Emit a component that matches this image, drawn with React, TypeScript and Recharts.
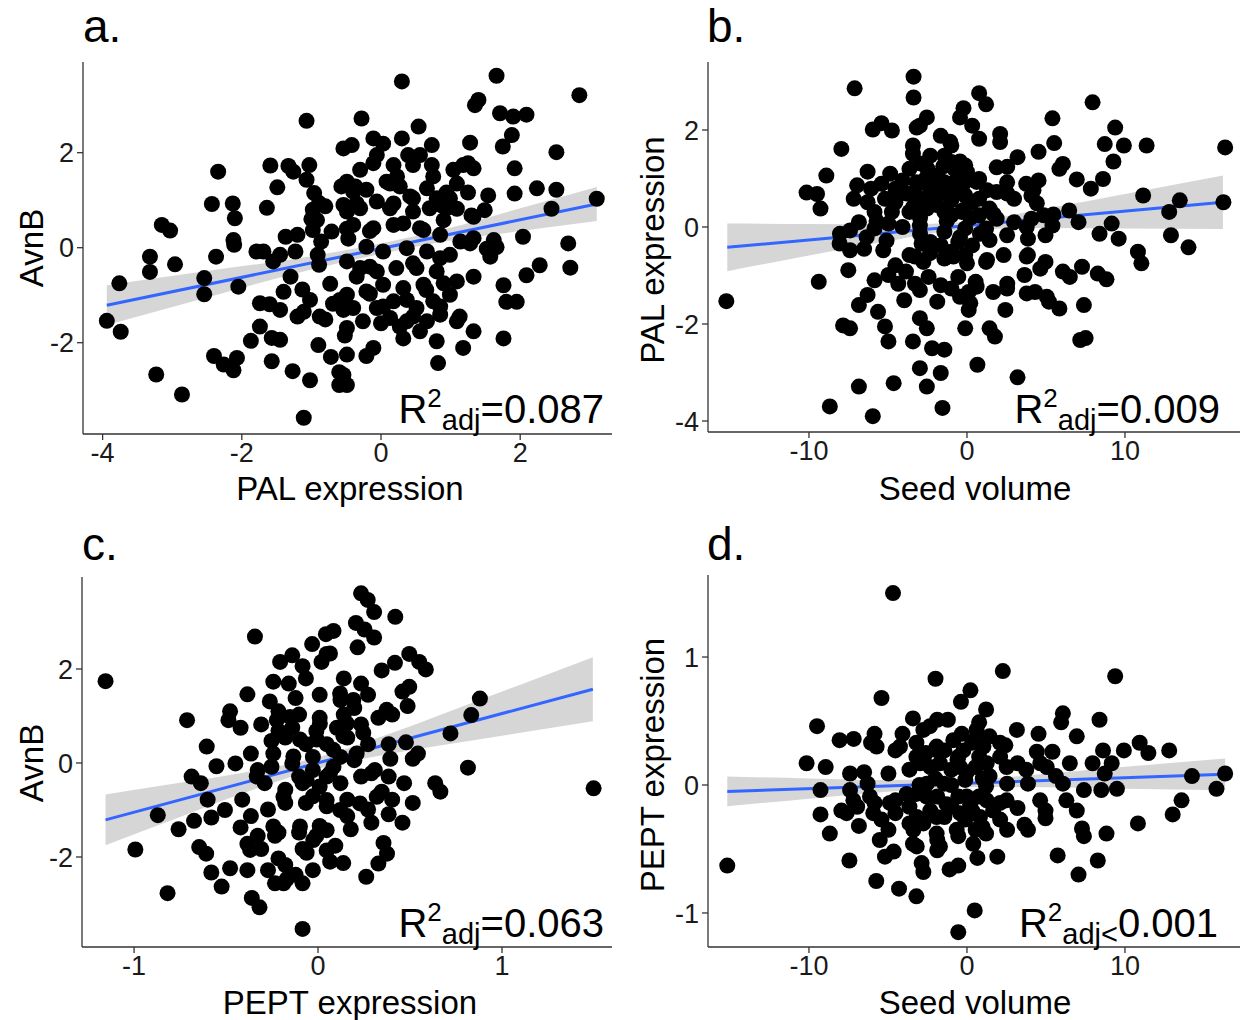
import React from 'react';
import { ComposedChart, Scatter, Line, Area, XAxis, YAxis } from 'recharts';

const FONT = '"Liberation Sans", Arial, Helvetica, sans-serif';

// ---------- Panel a: AvnB vs PAL expression ----------
const panelAPoints: [number, number][] = [
  [-1.07,2.67],[-0.54,2.09],[-2.34,1.60],[-1.59,1.73],[-1.33,1.72],[-1.26,1.60],[-1.03,1.74],[-1.07,1.43],[-1.49,1.27],
  [-2.43,0.92],[-2.13,0.93],[-2.10,0.62],[-1.64,0.84],[-3.15,0.48],[-3.03,0.36],[-2.12,0.16],[-2.11,0.06],[-1.79,-0.08],
  [-1.69,-0.08],[-3.32,-0.19],[-3.32,-0.51],[-2.96,-0.35],[-2.37,-0.19],[-3.76,-0.75],[-3.94,-1.54],[-3.74,-1.77],
  [-2.54,-0.64],[-2.54,-0.98],[-2.05,-0.82],[-3.23,-2.67],[-2.86,-3.09],[-2.40,-2.28],[-2.26,-2.46],[-2.12,-2.58],
  [-2.07,-2.32],[-1.87,-1.96],[-1.74,-1.66],[-1.74,-1.17],[-1.60,-1.19],[-1.57,-1.90],[-1.45,-1.94],[-1.57,-2.39],
  [-1.27,-2.60],[-1.02,-2.79],[-1.11,-3.58],[-1.45,-1.31],[-1.40,-0.93],[-1.30,-0.61],[-1.13,-0.88],[-1.02,-1.10],
  [-1.20,-1.45],[-0.90,-2.05],[-0.72,-2.30],[-0.60,-2.62],[-0.60,-2.89],[-0.80,-1.51],[-0.73,-0.76],[-0.69,-1.18],
  [-0.54,-1.31],[-0.52,-1.85],[-1.37,0.23],[-1.20,0.27],[-1.23,-0.08],[-1.45,-0.15],[-1.55,-0.29],[-0.98,0.37],
  [-0.86,0.13],[-0.71,0.34],[-0.91,-0.15],[-0.89,-0.36],[-0.98,0.80],[-0.89,0.94],[-0.96,1.15],[-0.80,0.87],
  [-0.57,1.29],[-0.54,0.90],[-1.00,0.60],[-0.49,0.40],
  [0.30,3.50],[1.66,3.62],[2.85,3.21],[1.40,3.11],[1.35,3.00],[1.71,2.83],[1.90,2.76],[2.09,2.80],[-0.28,2.72],
  [0.54,2.55],[1.88,2.37],[1.75,2.13],[2.52,2.01],[-0.11,2.30],[0.03,2.19],[0.30,2.30],[0.73,2.16],[-0.42,2.16],
  [1.28,2.21],[1.92,1.67],[2.24,1.25],[2.52,1.22],[1.92,1.14],[1.54,1.10],[1.49,0.79],[3.10,1.03],[2.45,0.82],
  [2.69,0.09],[2.72,-0.42],[2.28,-0.37],[2.09,-0.58],[2.04,0.23],[1.76,-0.79],[1.80,-1.14],[1.95,-1.14],[1.76,-1.91],
  [1.52,-0.02],[1.66,0.01],[1.33,0.20],[1.30,0.68],[1.09,1.35],[0.99,1.04],[1.33,1.67],[1.18,1.74],[0.73,1.74],
  [0.56,1.95],[0.39,1.95],[0.18,1.74],[-0.11,1.78],[-0.30,1.64],[-0.49,1.39],[-0.40,1.18],[-0.21,1.22],[0.08,1.39],
  [0.27,1.29],[0.46,1.04],[0.66,1.25],[0.80,1.04],[0.94,0.83],[0.70,0.83],[0.46,0.76],[0.13,0.83],[-0.06,0.97],
  [-0.30,0.83],[-0.49,0.76],[-0.40,0.48],[-0.11,0.41],[0.18,0.48],[0.56,0.41],[0.85,0.27],[1.14,0.13],[-0.21,0.02],
  [0.03,-0.08],[0.37,-0.01],[0.66,-0.08],[0.85,-0.22],[0.99,-0.15],[-0.49,-0.29],[-0.30,-0.43],[-0.06,-0.50],
  [0.22,-0.43],[0.51,-0.43],[0.80,-0.50],[1.33,-0.61],[1.09,-0.71],[0.61,-0.78],[0.32,-0.85],[0.03,-0.78],
  [-0.21,-0.92],[-0.49,-0.99],[-0.40,-1.27],[-0.06,-1.27],[0.18,-1.13],[0.51,-1.27],[0.75,-1.13],[0.99,-0.99],
  [0.85,-1.41],[1.09,-1.55],[0.66,-1.55],[0.37,-1.55],[0.13,-1.48],[-0.26,-1.55],[-0.49,-1.69],[0.32,-1.91],
  [0.56,-1.76],[0.80,-1.97],[1.33,-1.76],[1.18,-2.11],[0.82,-2.43],[-0.11,-2.11],[-0.21,-2.28],[-0.49,-2.25],
  [-0.54,-2.68],[-0.49,-2.89],[-0.06,1.95],
  [-0.37,1.29],[0.23,1.50],[0.13,1.35],[0.46,1.74],[0.75,1.50],[1.04,1.64],[1.25,1.78],[1.25,1.16],[0.94,1.16],
  [0.87,0.89],[1.09,0.82],[0.42,1.08],[0.18,0.93],[-0.35,0.93],[-0.92,0.58],[-0.47,0.19],[-0.16,0.35],[0.32,0.51],
  [0.61,0.37],[0.90,0.58],[1.33,0.65],[1.62,0.16],[1.57,-0.19],[1.28,0.09],[0.46,-0.33],[-0.16,-0.40],[-0.35,-0.61],
  [-1.11,-1.35],[-0.59,-1.10],[-0.16,-0.97],[0.03,-1.24],[0.37,-1.10],[0.65,-0.89],[0.90,-0.75],[1.13,-1.45],
  [0.85,-1.24],[0.46,-1.45],[0.27,-1.66],[0.00,-1.59],[-0.88,-1.45],
];
const panelABandX = [-3.94, -2.5, -1, 0, 1, 2, 3.1];
const panelABandLo = [-1.63, -1.05, -0.46, -0.13, 0.15, 0.35, 0.56];
const panelABandHi = [-0.79, -0.49, -0.18, 0.09, 0.42, 0.83, 1.28];
const panelAFitX = [-3.94, 3.1];
const panelAFitY = [-1.21, 0.92];

// ---------- Panel b: PAL expression vs Seed volume ----------
const panelBPoints: [number, number][] = [
  [-3.38,3.10],[-3.38,2.67],[-7.11,2.86],[0.77,2.76],[1.21,2.53],[-0.22,2.45],[7.95,2.57],[-0.44,2.26],[-2.54,2.26],
  [-2.98,2.09],[5.41,2.24],[9.38,2.05],[-5.96,2.01],[-5.41,2.14],[-4.75,1.99],[2.10,1.92],[0.33,2.09],[-1.66,1.88],
  [-7.95,1.61],[8.72,1.71],[9.93,1.68],[11.37,1.68],[16.34,1.64],[5.52,1.73],[4.53,1.55],[2.10,1.75],[0.77,1.82],
  [-3.42,1.68],[-3.42,1.51],[-2.32,1.47],[-1.43,1.47],[9.27,1.35],[6.07,1.30],[5.85,1.20],[3.20,1.44],[1.88,1.23],
  [-0.11,1.27],[-0.99,1.34],[-3.64,1.20],[-4.86,1.10],[-6.29,1.14],[-8.90,1.06],[8.61,0.99],[6.95,0.98],[7.84,0.79],
  [4.53,0.96],[3.75,0.89],[2.54,0.92],[0.77,0.99],[-0.55,1.06],[-1.88,1.06],[-2.76,0.92],[-4.08,0.96],[-5.41,0.89],
  [-6.95,0.86],[-6.07,0.79],[-10.15,0.71],[-9.49,0.68],[-9.27,0.38],[-7.17,0.58],[-6.29,0.51],[-5.19,0.58],
  [-4.30,0.68],[-3.20,0.65],[-2.32,0.65],[-1.43,0.72],[-0.11,0.65],[0.77,0.58],[1.88,0.72],[2.98,0.58],[4.08,0.65],
  [11.15,0.65],[13.47,0.55],[12.80,0.31],[16.23,0.51],[6.47,0.34],[7.06,0.10],[9.16,0.07],[4.86,0.24],[4.08,0.17],
  [2.98,0.10],[1.88,0.17],[0.77,0.24],[-0.33,0.31],[-1.43,0.31],[-2.54,0.38],[-3.64,0.31],[-4.75,0.31],[-5.85,0.31],
  [-6.84,0.10],[-7.40,-0.07],[-5.85,-0.03],[-4.08,0.00],[-2.98,0.03],[-1.43,-0.10],[-0.11,-0.03],[1.21,-0.03],
  [2.54,-0.17],[5.41,0.03],[8.39,-0.14],[9.60,-0.24],[12.91,-0.17],[14.02,-0.42],[10.82,-0.51],[11.04,-0.75],
  [3.86,-0.24],[4.97,-0.17],[-8.06,-0.34],[-7.40,-0.48],[-6.51,-0.45],[-5.30,-0.48],[-2.87,-0.34],[-1.66,-0.38],
  [-0.55,-0.31],[0.33,-0.38],[1.43,-0.27],[3.86,-0.58],[4.97,-0.72],[4.64,-0.86],[6.07,-0.92],[6.51,-1.03],
  [7.28,-0.82],[8.28,-0.96],[8.83,-1.08],[-9.38,-1.13],[-7.51,-0.89],[-4.53,-0.79],[-3.64,-0.58],[-2.76,-0.72],
  [-1.43,-0.65],[-0.11,-0.58],[1.21,-0.72],[2.32,-0.58],[-3.86,-0.92],[-4.97,-0.99],[-5.85,-1.10],[-2.43,-1.03],
  [-0.55,-1.03],[0.55,-1.13],[-1.66,-1.20],[-2.98,-1.30],[-3.97,-1.51],[-6.29,-1.40],[-6.84,-1.61],[-5.63,-1.75],
  [-0.99,-1.27],[0.11,-1.34],[1.66,-1.34],[2.54,-1.27],[3.64,-0.99],[4.31,-1.34],[5.19,-1.54],[5.85,-1.68],
  [2.43,-1.71],[7.40,-1.61],[-1.88,-1.54],[0.11,-1.71],[-7.84,-2.03],[-7.40,-2.09],[-5.19,-2.05],[-4.97,-2.36],
  [-2.98,-1.88],[-2.54,-2.09],[-3.42,-2.36],[-0.11,-2.09],[1.43,-2.09],[1.77,-2.26],[-2.21,-2.50],[-1.43,-2.53],
  [7.17,-2.33],[7.51,-2.29],[0.66,-2.84],[-2.98,-2.91],[-1.66,-3.01],[3.20,-3.10],[-4.64,-3.22],[-2.54,-3.29],
  [-6.84,-3.29],[-8.68,-3.70],[-5.96,-3.90],[-1.55,-3.73],[-15.23,-1.53],[-0.99,0.55],[-4.53,0.79],[-0.99,1.68],
  [-3.20,0.92],[-1.43,0.92],[-2.32,0.79],[-0.55,0.79],[-2.76,0.51],[-1.88,0.45],[-0.99,0.24],[0.33,0.51],
  [1.43,0.38],[-4.53,0.51],[-4.97,0.07],[-2.32,-0.31],[-0.99,-0.51],
  [-3.18,2.05],[-1.07,1.76],[-2.97,1.31],[-0.44,1.35],[0.00,1.14],[2.55,1.24],[-3.82,0.69],[-2.13,0.89],[-1.07,0.89],
  [0.61,0.93],[1.27,0.76],[4.21,0.76],[-3.39,0.42],[-0.23,0.35],[2.55,0.69],[4.42,0.49],[-5.72,0.12],[-2.97,0.19],
  [-1.28,0.12],[0.21,0.19],[1.69,0.26],[5.47,0.26],[-8.04,-0.14],[-6.35,-0.21],[-5.09,-0.28],[-2.97,-0.14],
  [-0.44,-0.21],[0.82,-0.14],[3.78,0.00],[-3.29,-0.61],[-2.34,-0.54],[-0.86,-0.61],[0.00,-0.75],[1.27,-0.68],
  [3.78,-0.61],[-4.35,-1.17],[-3.29,-1.17],[0.61,-1.23],[2.55,-1.17],[3.78,-1.37],[5.05,-1.44],[-0.44,-1.44],
  [0.21,-1.57],[-2.50,1.20],[-1.80,1.00],[-0.80,1.20],[-2.00,0.60],[-1.00,0.60],[-0.20,0.90],[-2.60,1.00],[-1.50,1.25],
];
const panelBBandX = [-15.17, -10, -5, 0, 5, 10, 16.2];
const panelBBandLo = [-0.91, -0.59, -0.29, -0.05, -0.02, -0.03, -0.04];
const panelBBandHi = [0.07, 0.06, 0.05, 0.11, 0.38, 0.68, 1.06];
const panelBFitX = [-15.17, 16.2];
const panelBFitY = [-0.42, 0.51];

// ---------- Panel c: AvnB vs PEPT expression ----------
const panelCPoints: [number, number][] = [
  [-1.155,1.74],[0.234,3.61],[0.27,3.47],[0.305,3.21],[0.42,3.11],[0.206,2.98],[0.253,2.84],[0.305,2.67],[0.215,2.46],
  [-0.343,2.69],[0.043,2.74],[0.084,2.81],[-0.032,2.53],[0.047,2.32],[0.019,2.15],[-0.14,2.29],[-0.206,2.15],
  [-0.084,2.06],[0.496,2.32],[0.55,2.15],[0.586,1.99],[0.418,2.13],[0.346,1.97],[-0.243,1.73],[-0.159,1.69],
  [-0.066,1.80],[0.14,1.80],[0.234,1.69],[0.496,1.62],[0.459,1.52],[-0.384,1.46],[-0.262,1.31],[-0.122,1.38],
  [0.009,1.45],[0.122,1.34],[0.272,1.45],[0.487,1.21],[0.88,1.37],[-0.712,0.91],[-0.487,0.91],[-0.421,0.75],
  [-0.309,0.82],[-0.215,0.68],[-0.103,1.03],[0.009,0.96],[0.14,1.03],[0.234,0.82],[0.328,0.96],[0.403,1.03],
  [0.833,1.02],[0.72,0.63],[-0.605,0.35],[-0.552,-0.07],[-0.449,-0.01],[-0.365,0.20],[-0.253,0.47],[-0.178,0.54],
  [-0.066,0.40],[0.047,0.40],[0.159,0.54],[0.272,0.40],[0.384,0.40],[0.478,0.44],[0.543,0.20],[0.515,0.09],
  [0.393,0.09],[-0.328,-0.15],[-0.253,-0.08],[-0.14,-0.01],[-0.028,-0.15],[0.084,-0.08],[0.197,0.06],[0.309,-0.15],
  [0.815,-0.10],[0.637,-0.43],[0.665,-0.61],[1.498,-0.54],[-0.687,-0.29],[-0.637,-0.43],[-0.60,-0.78],[-0.412,-0.78],
  [-0.29,-0.43],[-0.178,-0.57],[-0.084,-0.43],[0.009,-0.50],[0.122,-0.43],[0.234,-0.29],[0.29,-0.22],[0.384,-0.29],
  [0.468,-0.43],[0.346,-0.61],[0.403,-0.78],[0.515,-0.85],[-0.871,-1.11],[-0.758,-1.41],[-0.674,-1.23],[-0.58,-1.16],
  [-0.506,-1.00],[-0.365,-1.13],[-0.272,-0.99],[-0.178,-0.85],[-0.066,-0.85],[0.047,-0.92],[0.159,-1.13],
  [0.272,-0.99],[0.384,-1.09],[0.459,-1.27],[0.29,-1.27],[0.178,-1.41],[0.009,-1.34],[-0.103,-1.48],[-0.215,-1.48],
  [-0.328,-1.55],[-0.421,-1.37],[-0.993,-1.84],[-0.646,-1.79],[-0.608,-1.93],[-0.384,-1.72],[-0.309,-1.83],
  [-0.234,-1.55],[-0.084,-1.83],[-0.009,-1.55],[0.047,-1.86],[0.094,-1.76],[-0.215,-2.03],[-0.178,-2.17],
  [0.066,-2.10],[0.356,-1.70],[0.375,-1.93],[0.328,-2.14],[-0.58,-2.33],[-0.478,-2.24],[-0.384,-2.28],
  [-0.272,-2.28],[-0.122,-2.38],[-0.028,-2.28],[0.262,-2.42],[-0.234,-2.56],[-0.187,-2.56],[-0.084,-2.56],
  [-0.524,-2.63],[-0.818,-2.77],[-0.36,-2.87],[-0.318,-3.07],[-0.084,-3.53],[-0.478,1.10],[-0.14,0.75],
  [-0.009,0.68],[0.103,0.75],[0.197,1.17],[-0.215,1.10],[-0.028,0.13],[0.122,0.13],[-0.103,-0.29],[0.047,-0.29],
  [-0.028,-0.71],[0.159,-0.78],
  [0.065,2.33],[0.12,1.48],[0.192,1.34],[0.373,1.13],[-0.224,0.91],[-0.152,0.98],[0.01,0.84],[0.156,0.84],
  [-0.098,0.50],[-0.007,0.50],[0.138,0.57],[0.246,0.64],[-0.243,0.20],[-0.134,0.14],[0.083,0.28],[0.21,0.20],
  [-0.333,-0.29],[-0.062,-0.36],[0.065,-0.22],[-0.188,-0.72],[0.047,-0.79],[0.12,-1.00],[0.228,-0.86],[0.319,-0.72],
  [-0.243,-1.35],[-0.098,-1.35],[-0.026,-1.64],[0.047,-1.43],[-0.369,-1.85],[-0.062,-1.91],[0.137,-2.13],[-0.17,-2.47],
];
const panelCBandX = [-1.155, -0.75, -0.4, 0, 0.4, 0.75, 1.1, 1.494];
const panelCBandLo = [-1.75, -1.147, -0.635, -0.12, 0.203, 0.425, 0.642, 0.89];
const panelCBandHi = [-0.67, -0.423, -0.201, 0.12, 0.637, 1.149, 1.666, 2.25];
const panelCFitX = [-1.155, 1.494];
const panelCFitY = [-1.21, 1.57];

// ---------- Panel d: PEPT expression vs Seed volume ----------
const panelDPoints: [number, number][] = [
  [-4.68,1.50],[2.27,0.89],[9.38,0.85],[-1.99,0.83],[-5.41,0.68],[0.22,0.74],[-0.38,0.65],[1.21,0.59],[6.07,0.56],
  [5.96,0.49],[8.39,0.51],[-9.49,0.46],[-3.42,0.52],[-1.88,0.51],[-1.21,0.51],[0.77,0.49],[3.16,0.43],[4.53,0.40],
  [6.95,0.38],[-8.06,0.35],[-7.17,0.36],[-5.85,0.40],[-6.07,0.33],[-4.08,0.40],[-2.76,0.43],[-0.33,0.40],[1.43,0.38],
  [2.43,0.31],[4.42,0.26],[5.41,0.26],[8.61,0.27],[9.93,0.27],[10.93,0.33],[11.48,0.25],[12.80,0.27],[-10.15,0.17],
  [-8.94,0.14],[-7.40,0.09],[-6.51,0.10],[-4.53,0.27],[-3.20,0.33],[-1.43,0.27],[0.33,0.33],[2.10,0.22],[3.20,0.17],
  [3.75,0.12],[4.64,0.17],[6.51,0.17],[7.95,0.17],[9.16,0.17],[8.72,0.09],[5.63,0.07],[14.24,0.07],[16.34,0.09],
  [15.79,-0.03],[-9.27,-0.04],[-7.40,-0.04],[-6.29,0.01],[-4.97,0.09],[-3.64,0.12],[-2.32,0.14],[-0.99,0.12],
  [0.55,0.14],[1.43,0.07],[2.54,0.01],[3.86,0.01],[6.07,0.01],[7.40,-0.04],[8.50,-0.04],[9.49,-0.03],[6.29,-0.12],
  [6.95,-0.20],[13.58,-0.12],[13.02,-0.23],[10.82,-0.30],[8.83,-0.38],[7.28,-0.34],[7.40,-0.40],[8.28,-0.59],
  [7.06,-0.70],[5.74,-0.55],[4.97,-0.20],[4.97,-0.26],[3.86,-0.35],[3.64,-0.31],[3.20,-0.18],[2.10,-0.14],[0.77,-0.09],
  [-0.55,-0.09],[-1.88,-0.09],[-3.20,-0.07],[-4.53,-0.12],[-5.85,-0.14],[-6.95,-0.17],[-7.95,-0.20],[-9.27,-0.23],
  [-8.68,-0.38],[-6.84,-0.32],[-5.41,-0.27],[-4.97,-0.35],[-3.64,-0.30],[-2.76,-0.30],[-1.43,-0.25],[-0.11,-0.27],
  [0.99,-0.33],[2.10,-0.27],[2.54,-0.35],[-5.52,-0.43],[-3.42,-0.46],[-1.88,-0.43],[-0.55,-0.40],[0.55,-0.35],
  [1.21,-0.38],[-7.44,-0.59],[-5.19,-0.56],[-4.64,-0.52],[-2.87,-0.61],[-2.76,-0.68],[-1.10,-0.66],[-0.55,-0.63],
  [0.66,-0.57],[1.92,-0.56],[-1.88,-0.51],[-5.74,-0.75],[-4.30,-0.81],[-3.20,-0.87],[0.49,-0.98],[-0.55,-1.15],
  [-15.17,-0.63],[-3.20,0.22],[-1.88,0.27],[-0.55,0.22],[0.77,0.22],[-2.54,0.01],[-1.43,0.01],[-0.11,0.04],
  [1.21,-0.01],[-3.64,-0.17],[-2.32,-0.20],[-0.99,-0.17],[0.33,-0.20],[1.66,-0.20],[-4.53,-0.22],
  [-5.72,0.30],[-2.34,0.46],[0.61,0.43],[2.09,0.33],[-4.24,0.30],[-1.92,0.30],[-0.86,0.35],[-0.23,0.27],[1.04,0.30],
  [-2.97,0.17],[-1.71,0.17],[-0.44,0.14],[1.25,0.17],[2.51,0.14],[5.05,0.14],[-7.19,-0.12],[-6.14,-0.09],
  [-4.88,-0.14],[-3.82,-0.07],[-2.55,-0.09],[-0.02,-0.09],[1.25,-0.12],[2.51,-0.12],[4.63,-0.12],[-7.62,-0.22],
  [-5.93,-0.22],[-3.18,-0.25],[-1.92,-0.25],[-0.44,-0.22],[0.82,-0.25],[-3.39,-0.35],[-1.92,-0.38],[-0.65,-0.35],
  [-3.18,-0.48],[-1.71,-0.48],[0.40,-0.46],[-2.00,0.05],[-1.00,0.00],[0.00,0.10],[1.00,0.05],[-3.00,0.00],
  [-1.30,-0.15],[0.20,-0.15],[-2.60,0.25],[-0.60,0.20],[0.50,0.35],
];
const panelDBandX = [-15.17, -10, -5, 0, 5, 10, 16.34];
const panelDBandLo = [-0.167, -0.107, -0.053, -0.016, -0.017, -0.030, -0.042];
const panelDBandHi = [0.067, 0.051, 0.039, 0.044, 0.087, 0.142, 0.208];
const panelDFitX = [-15.17, 16.34];
const panelDFitY = [-0.05, 0.083];

// ---------- Axis ticks ----------
const aXTicks = [-4, -2, 0, 2];
const aYTicks = [-2, 0, 2];
const bXTicks = [-10, 0, 10];
const bYTicks = [-4, -2, 0, 2];
const cXTicks = [-1, 0, 1];
const cYTicks = [-2, 0, 2];
const dXTicks = [-10, 0, 10];
const dYTicks = [-1, 0, 1];

type PanelProps = {
  left: number; top: number; width: number; height: number;
  mTop: number; mRight: number; yWidth: number; xHeight: number;
  xDomain: [number, number]; yDomain: [number, number];
  xTicks: number[]; yTicks: number[];
  points: [number, number][];
  bandX: number[]; bandLo: number[]; bandHi: number[];
  fitX: number[]; fitY: number[];
};

const Dot = (props: any) => {
  const { cx, cy } = props;
  if (cx == null || cy == null) return null;
  return <circle cx={cx} cy={cy} r={8} fill="#000" />;
};

const tickStyle = { fill: '#1a1a1a', fontSize: 27, fontFamily: FONT };

function Panel(p: PanelProps) {
  const scatterData = p.points.map(([x, y]) => ({ x, y }));
  const rows = p.bandX.map((x, i) => ({
    x,
    band: [p.bandLo[i], p.bandHi[i]] as any,
    fit: null as number | null,
  }));
  p.fitX.forEach((fx, i) => {
    const r = rows.find((row) => row.x === fx);
    if (r) r.fit = p.fitY[i];
    else rows.push({ x: fx, band: null, fit: p.fitY[i] });
  });
  rows.sort((a, b) => a.x - b.x);
  return (
    <div style={{ position: 'absolute', left: p.left, top: p.top }}>
      <ComposedChart
        width={p.width}
        height={p.height}
        data={rows}
        margin={{ top: p.mTop, right: p.mRight, bottom: 0, left: 0 }}
      >
        <XAxis
          type="number"
          dataKey="x"
          domain={p.xDomain}
          allowDataOverflow
          ticks={p.xTicks}
          height={p.xHeight}
          tick={tickStyle}
          tickSize={6}
          tickMargin={3}
          axisLine={{ stroke: '#333', strokeWidth: 1.3 }}
          tickLine={{ stroke: '#333', strokeWidth: 1.3 }}
          interval={0}
        />
        <YAxis
          type="number"
          domain={p.yDomain}
          allowDataOverflow
          ticks={p.yTicks}
          width={p.yWidth}
          tick={tickStyle}
          tickSize={6}
          tickMargin={3}
          axisLine={{ stroke: '#333', strokeWidth: 1.3 }}
          tickLine={{ stroke: '#333', strokeWidth: 1.3 }}
          interval={0}
        />
        <Scatter data={scatterData} dataKey="y" shape={Dot} isAnimationActive={false} />
        <Area
          dataKey="band"
          type="monotone"
          fill="#999999"
          fillOpacity={0.4}
          stroke="none"
          isAnimationActive={false}
          connectNulls
          activeDot={false}
        />
        <Line
          dataKey="fit"
          type="linear"
          stroke="#3366FF"
          strokeWidth={3}
          dot={false}
          activeDot={false}
          connectNulls
          isAnimationActive={false}
        />
      </ComposedChart>
    </div>
  );
}

function R2({ x, y, value, rel }: { x: number; y: number; value: string; rel: string }) {
  return (
    <text x={x} y={y} textAnchor="end" fontFamily={FONT} fontSize={40} fill="#000">
      R
      <tspan fontSize={26} dy={-16}>2</tspan>
      <tspan fontSize={29} dy={23}>{'adj' + (rel === '<' ? '<' : '')}</tspan>
      <tspan fontSize={40} dy={-7}>{(rel === '<' ? '' : '=') + value}</tspan>
    </text>
  );
}

export default function App() {
  return (
    <div style={{ position: 'relative', width: 1243, height: 1020, background: '#fff', overflow: 'hidden' }}>
      <style>{'body{margin:0;}'}</style>
      <Panel
        left={0} top={0} width={620} height={510} mTop={62} mRight={8} yWidth={83} xHeight={76}
        xDomain={[-4.282, 3.319]} yDomain={[-3.922, 3.909]} xTicks={aXTicks} yTicks={aYTicks}
        points={panelAPoints} bandX={panelABandX} bandLo={panelABandLo} bandHi={panelABandHi}
        fitX={panelAFitX} fitY={panelAFitY}
      />
      <Panel
        left={620} top={0} width={623} height={510} mTop={62} mRight={3} yWidth={88} xHeight={78}
        xDomain={[-16.39, 17.28]} yDomain={[-4.227, 3.402]} xTicks={bXTicks} yTicks={bYTicks}
        points={panelBPoints} bandX={panelBBandX} bandLo={panelBBandLo} bandHi={panelBBandHi}
        fitX={panelBFitX} fitY={panelBFitY}
      />
      <Panel
        left={0} top={510} width={620} height={510} mTop={67} mRight={8} yWidth={82} xHeight={73}
        xDomain={[-1.283, 1.598]} yDomain={[-3.915, 3.957]} xTicks={cXTicks} yTicks={cYTicks}
        points={panelCPoints} bandX={panelCBandX} bandLo={panelCBandLo} bandHi={panelCBandHi}
        fitX={panelCFitX} fitY={panelCFitY}
      />
      <Panel
        left={620} top={510} width={623} height={510} mTop={65} mRight={3} yWidth={88} xHeight={73}
        xDomain={[-16.39, 17.28]} yDomain={[-1.266, 1.641]} xTicks={dXTicks} yTicks={dYTicks}
        points={panelDPoints} bandX={panelDBandX} bandLo={panelDBandLo} bandHi={panelDBandHi}
        fitX={panelDFitX} fitY={panelDFitY}
      />
      <svg width={1243} height={1020} style={{ position: 'absolute', left: 0, top: 0, pointerEvents: 'none' }}>
        <g fontFamily={FONT} fill="#000">
          <text x={83} y={42} fontSize={46}>a.</text>
          <text x={707} y={42} fontSize={46}>b.</text>
          <text x={82} y={560} fontSize={46}>c.</text>
          <text x={707} y={560} fontSize={46}>d.</text>

          <text x={350} y={488} fontSize={33} textAnchor="middle" dy="0.35em">PAL expression</text>
          <text x={975} y={488} fontSize={33} textAnchor="middle" dy="0.35em">Seed volume</text>
          <text x={350} y={1002} fontSize={33} textAnchor="middle" dy="0.35em">PEPT expression</text>
          <text x={975} y={1002} fontSize={33} textAnchor="middle" dy="0.35em">Seed volume</text>

          <text transform="translate(31,248) rotate(-90)" fontSize={33} textAnchor="middle" dy="0.35em">AvnB</text>
          <text transform="translate(652,250) rotate(-90)" fontSize={33} textAnchor="middle" dy="0.35em">PAL expression</text>
          <text transform="translate(31,763) rotate(-90)" fontSize={33} textAnchor="middle" dy="0.35em">AvnB</text>
          <text transform="translate(652,765) rotate(-90)" fontSize={33} textAnchor="middle" dy="0.35em">PEPT expression</text>

          <R2 x={604} y={423} value="0.087" rel="=" />
          <R2 x={1220} y={423} value="0.009" rel="=" />
          <R2 x={604} y={937} value="0.063" rel="=" />
          <R2 x={1218} y={937} value="0.001" rel="<" />
        </g>
      </svg>
    </div>
  );
}
